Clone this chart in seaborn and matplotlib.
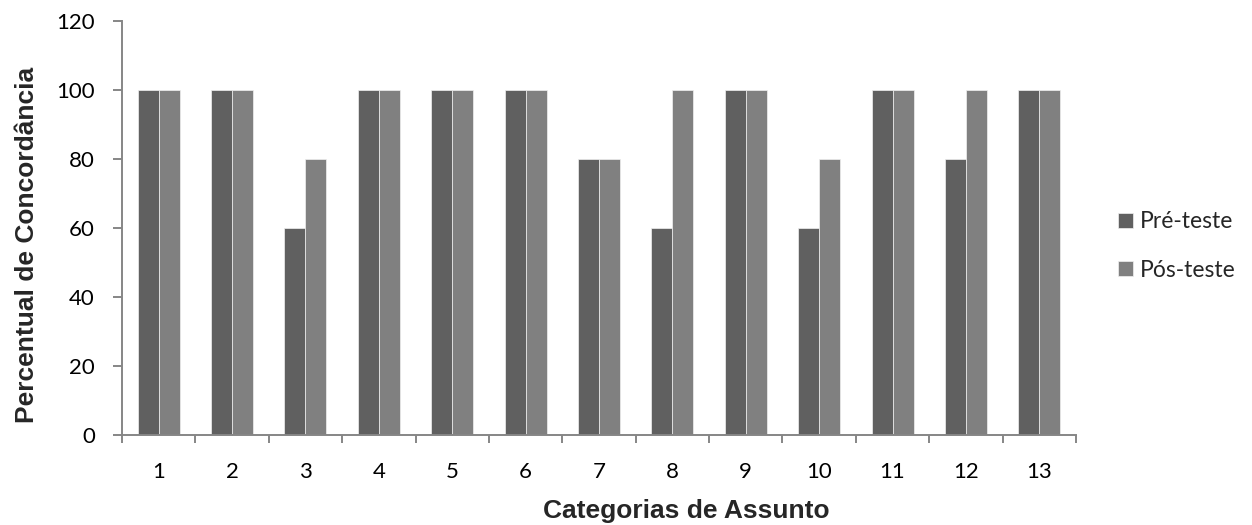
import matplotlib
matplotlib.use("Agg")
import matplotlib.pyplot as plt
import seaborn as sns
import pandas as pd
from matplotlib.ticker import FixedLocator

categorias = ["1", "2", "3", "4", "5", "6", "7", "8", "9", "10", "11", "12", "13"]
pre_teste = [100, 100, 60, 100, 100, 100, 80, 60, 100, 60, 100, 80, 100]
pos_teste = [100, 100, 80, 100, 100, 100, 80, 100, 100, 80, 100, 100, 100]
series = ["Pré-teste", "Pós-teste"]
y_ticks = [0, 20, 40, 60, 80, 100, 120]

df = pd.DataFrame({
    "Categoria": categorias * 2,
    "Valor": pre_teste + pos_teste,
    "Série": [series[0]] * len(categorias) + [series[1]] * len(categorias),
})

sns.set_theme(style="white")
plt.rcParams["font.family"] = ["Lato", "DejaVu Sans"]

W, H = 1252, 525
fig = plt.figure(figsize=(W / 100, H / 100), dpi=100)
# plot area: x 122..1076 px, y 21..435 px (from top)
ax = fig.add_axes([122 / W, (H - 435) / H, (1076 - 122) / W, (435 - 21) / H])

sns.barplot(data=df, x="Categoria", y="Valor", hue="Série", order=categorias,
            hue_order=series, palette=["#606060", "#808080"], width=0.572,
            edgecolor="#f0f0f0", linewidth=0.5, saturation=1, ax=ax, legend=True)

ax.set_ylim(0, 120)
ax.set_xlim(-0.5, len(categorias) - 0.5)
ax.set_yticks(y_ticks)
ax.tick_params(axis="both", labelsize=16, colors="black")
ax.tick_params(axis="y", which="major", length=6.5, width=1.4, color="#868686",
               direction="out", left=True, pad=13)
ax.tick_params(axis="x", which="major", length=0, pad=19.5)
ax.xaxis.set_minor_locator(FixedLocator([i - 0.5 for i in range(len(categorias) + 1)]))
ax.tick_params(axis="x", which="minor", length=6, width=1.4, color="#868686",
               direction="out", bottom=True)

for side in ["top", "right"]:
    ax.spines[side].set_visible(False)
for side in ["left", "bottom"]:
    ax.spines[side].set_color("#868686")
    ax.spines[side].set_linewidth(1.4)

ax.set_xlabel("Categorias de Assunto", fontsize=19, fontweight="bold",
              family=["Liberation Sans"])
ax.set_ylabel("Percentual de Concordância", fontsize=19, fontweight="bold",
              family=["Liberation Sans"])
ax.xaxis.set_label_coords((686 - 122) / 954, (435 - 499) / 414)
ax.yaxis.set_label_coords((39 - 122) / 954, (435 - 245) / 414)

ax.legend(loc="center left", bbox_to_anchor=(1118 / W, (H - 246) / H),
          bbox_transform=fig.transFigure, frameon=False, fontsize=16.5,
          handlelength=0.655, handleheight=0.655, labelspacing=1.18,
          handletextpad=0.3, borderpad=0, borderaxespad=0)

fig.savefig("out.png", dpi=100)
